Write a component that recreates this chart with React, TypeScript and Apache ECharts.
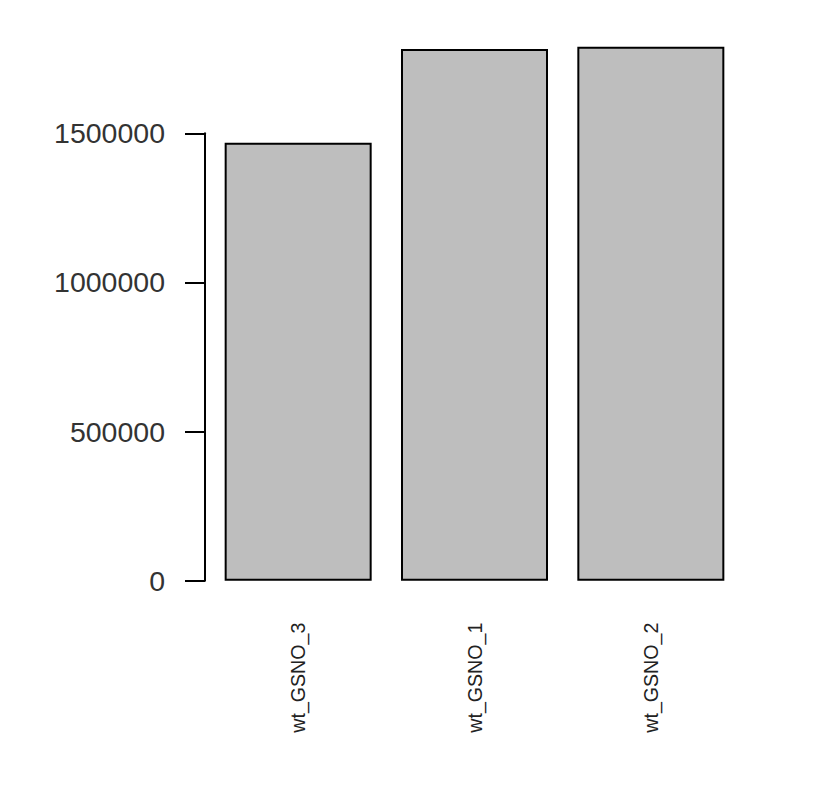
import React, { useEffect, useRef } from "react";
import * as echarts from "echarts";

const categories = ["wt_GSNO_3", "wt_GSNO_1", "wt_GSNO_2"];
const values = [1468500, 1782600, 1790300];
const yTicks = [0, 500000, 1000000, 1500000];

export default function App() {
  const ref = useRef<HTMLDivElement>(null);
  useEffect(() => {
    if (!ref.current) return;
    const chart = echarts.init(ref.current, undefined, { renderer: "svg" });
    chart.setOption({
      animation: false,
      backgroundColor: "#ffffff",
      grid: { left: 210, width: 529, top: 133.3, bottom: 209.3, containLabel: false },
      xAxis: {
        type: "category",
        data: categories,
        boundaryGap: true,
        axisLine: { show: false },
        axisTick: { show: false },
        axisLabel: {
          rotate: 90,
          margin: 42,
          fontSize: 19.6,
          fontFamily: "Liberation Sans, Arial, sans-serif",
          color: "#222",
        },
      },
      yAxis: {
        type: "value",
        min: yTicks[0],
        max: yTicks[yTicks.length - 1],
        interval: yTicks[1] - yTicks[0],
        offset: 5,
        splitLine: { show: false },
        axisLine: { show: true, lineStyle: { color: "#000", width: 2 } },
        axisTick: { show: true, length: 20, lineStyle: { color: "#000", width: 2 } },
        axisLabel: {
          margin: 40,
          fontSize: 28.5,
          fontFamily: "Liberation Sans, Arial, sans-serif",
          color: "#333",
          formatter: (v: number) => String(v),
        },
      },
      series: [
        {
          type: "bar",
          data: values,
          barWidth: 147,
          clip: false,
          itemStyle: { color: "#bebebe", borderColor: "#000", borderWidth: 2 },
        },
      ],
    });
    return () => chart.dispose();
  }, []);
  return (
    <div
      ref={ref}
      style={{ position: "fixed", left: 0, top: 0, width: 824, height: 790, background: "#fff" }}
    />
  );
}
